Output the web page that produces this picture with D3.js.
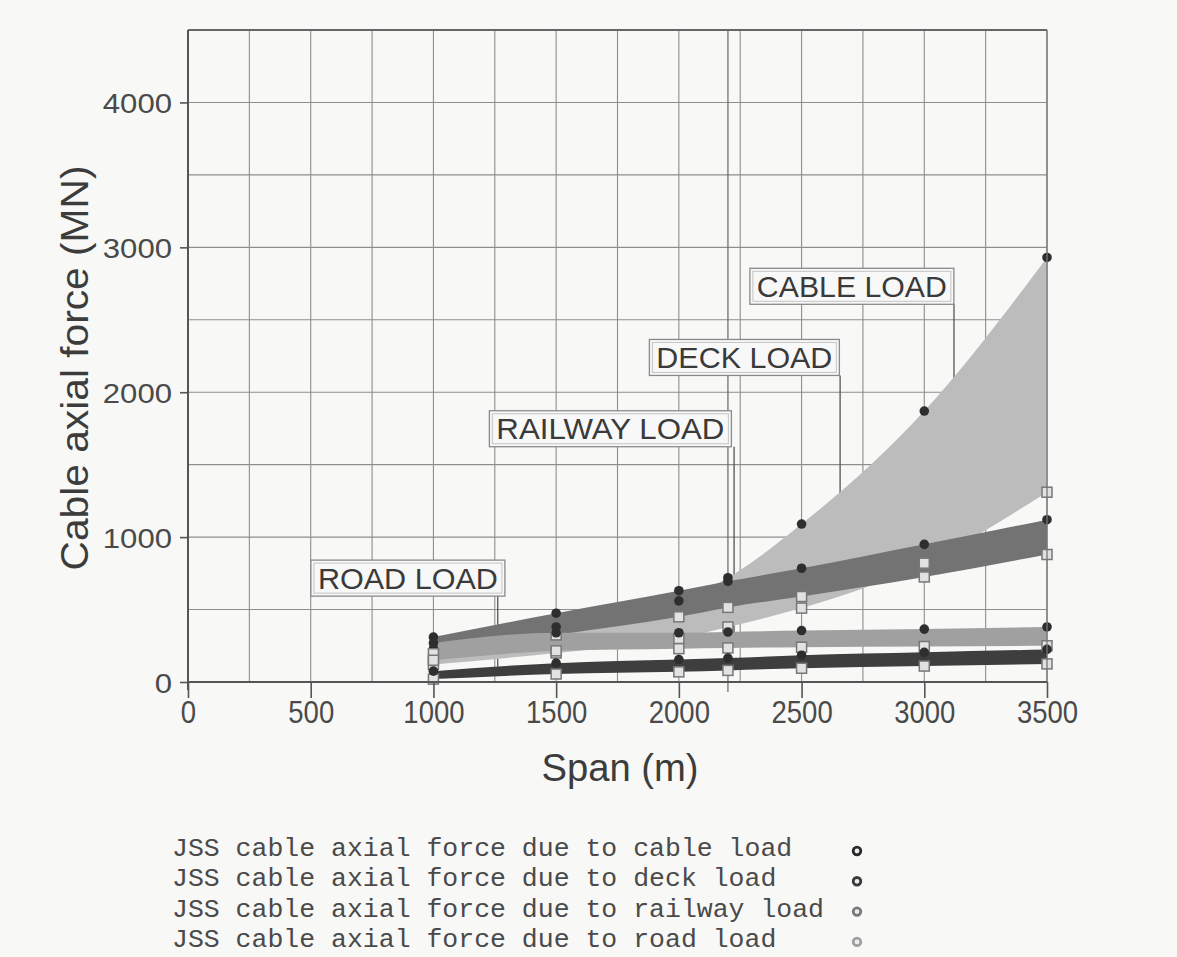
<!DOCTYPE html>
<html>
<head>
<meta charset="utf-8">
<script src="https://cdn.jsdelivr.net/npm/d3@7"></script>
<style>
  body { margin: 0; background: #f8f8f7; }
  svg { display: block; }
</style>
</head>
<body>
<div class="chart"></div>
<script>
// spans (m) where the curves were sampled
const spans = [1000, 1500, 2000, 2200, 2500, 3000, 3500];

// cable axial force bands (MN): lower and upper edge of each shaded band
const cableLower = [120, 200, 300, 380, 510, 820, 1310];
const cableUpper = [230, 380, 560, 720, 1090, 1870, 2930];
const deckLower = [195, 325, 450, 515, 590, 725, 880];
const deckUpper = [310, 475, 630, 695, 785, 950, 1120];
const railwayLower = [150, 215, 230, 235, 240, 245, 250];
const railwayUpper = [270, 340, 340, 345, 355, 365, 380];
const roadLower = [20, 55, 70, 80, 95, 110, 125];
const roadUpper = [75, 130, 155, 165, 185, 205, 225];

const xTicks = [0, 500, 1000, 1500, 2000, 2500, 3000, 3500];
const yTicks = [0, 1000, 2000, 3000, 4000];

const bandNames = ['CABLE LOAD', 'DECK LOAD', 'RAILWAY LOAD', 'ROAD LOAD'];
const legendLabels = [
  'JSS cable axial force due to cable load',
  'JSS cable axial force due to deck load',
  'JSS cable axial force due to railway load',
  'JSS cable axial force due to road load'
];

const W = 1177, H = 957;
const margin = { top: 30, right: 130, bottom: 275, left: 188 };

const svg = d3.select('.chart').append('svg').attr('width', W).attr('height', H);

const x = d3.scaleLinear().domain([0, 3500]).range([margin.left, W - margin.right]);
const y = d3.scaleLinear().domain([0, 4500]).range([H - margin.bottom, margin.top]);

// grid
const grid = svg.append('g').attr('stroke', '#8e8e8e').attr('stroke-width', 1.1);
grid.selectAll('line.v').data(d3.range(0, 3501, 250)).enter().append('line')
  .attr('x1', d => x(d)).attr('x2', d => x(d))
  .attr('y1', y(4500)).attr('y2', y(0));
grid.selectAll('line.h').data(d3.range(0, 4501, 500)).enter().append('line')
  .attr('x1', x(0)).attr('x2', x(3500))
  .attr('y1', d => y(d)).attr('y2', d => y(d));

// reference line at 2200 m
svg.append('line')
  .attr('x1', x(2200)).attr('x2', x(2200))
  .attr('y1', y(4500)).attr('y2', y(0) + 10)
  .attr('stroke', '#666').attr('stroke-width', 1.2);

// label boxes + leaders
const notes = [
  { name: bandNames[0], cx: 2705, cy: 2731, len: 190, lx: 3121, ly: 1468 },
  { name: bandNames[1], cx: 2267, cy: 2240, len: 176, lx: 2657, ly: 830 },
  { name: bandNames[2], cx: 1721, cy: 1748, len: 228, lx: 2225, ly: 300 },
  { name: bandNames[3], cx: 896, cy: 717, len: 180, lx: 1262, ly: 90 }
];
const leaders = svg.append('g');
notes.forEach(n => {
  leaders.append('line')
    .attr('x1', x(n.lx)).attr('x2', x(n.lx))
    .attr('y1', y(n.cy) + 18).attr('y2', y(n.ly))
    .attr('stroke', '#555').attr('stroke-width', 1.3);
});

// bands
const area = (lo, hi) => d3.area()
  .x((d, i) => x(spans[i]))
  .y0((d, i) => y(lo[i]))
  .y1((d, i) => y(hi[i]))
  .curve(d3.curveMonotoneX)(spans);

const bands = [
  { lo: cableLower, hi: cableUpper, fill: '#bcbcbc' },
  { lo: deckLower, hi: deckUpper, fill: '#737373' },
  { lo: railwayLower, hi: railwayUpper, fill: '#a0a0a0' },
  { lo: roadLower, hi: roadUpper, fill: '#3e3e3e' }
];
svg.append('g').selectAll('path').data(bands).enter().append('path')
  .attr('d', d => area(d.lo, d.hi))
  .attr('fill', d => d.fill);

// markers
const mk = svg.append('g');
bands.forEach(b => {
  mk.selectAll(null).data(spans).enter().append('rect')
    .attr('x', (d, i) => x(d) - 5).attr('y', (d, i) => y(b.lo[i]) - 5)
    .attr('width', 10).attr('height', 10)
    .attr('fill', '#e2e2e2').attr('stroke', '#777').attr('stroke-width', 1.5);
  mk.selectAll(null).data(spans).enter().append('circle')
    .attr('cx', d => x(d)).attr('cy', (d, i) => y(b.hi[i]))
    .attr('r', 4.8).attr('fill', '#2e2e2e');
});

// boxes on top
notes.forEach(n => {
  const w = n.len + 14, h = 36;
  const bx = x(n.cx) - w / 2, by = y(n.cy) - h / 2;
  const g = svg.append('g');
  g.append('rect').attr('x', bx).attr('y', by).attr('width', w).attr('height', h)
    .attr('fill', '#f8f8f8').attr('stroke', '#8a8a8a').attr('stroke-width', 1.3);
  g.append('rect').attr('x', bx + 3).attr('y', by + 3).attr('width', w - 6).attr('height', h - 6)
    .attr('fill', 'none').attr('stroke', '#c4c4c4').attr('stroke-width', 1);
  g.append('text').attr('x', x(n.cx)).attr('y', y(n.cy) + 10.5)
    .attr('text-anchor', 'middle')
    .attr('font-family', 'Liberation Sans, Arial, sans-serif').attr('font-size', 29)
    .attr('textLength', n.len).attr('lengthAdjust', 'spacingAndGlyphs')
    .attr('fill', '#3a3a3a').text(n.name);
});

// frame
svg.append('line').attr('x1', x(0)).attr('x2', x(3500)).attr('y1', y(4500)).attr('y2', y(4500))
  .attr('stroke', '#666').attr('stroke-width', 1.8);
svg.append('line').attr('x1', x(3500)).attr('x2', x(3500)).attr('y1', y(4500)).attr('y2', y(0))
  .attr('stroke', '#777').attr('stroke-width', 1.3);

// axes
const xAxis = svg.append('g').attr('transform', 'translate(0,' + y(0) + ')')
  .call(d3.axisBottom(x).tickValues(xTicks).tickSize(16).tickFormat(''));
const yAxis = svg.append('g').attr('transform', 'translate(' + x(0) + ',0)')
  .call(d3.axisLeft(y).tickValues(yTicks).tickSize(8).tickFormat(''));
[xAxis, yAxis].forEach(a => {
  a.select('.domain').attr('stroke', '#555').attr('stroke-width', 2);
  a.selectAll('.tick line').attr('stroke', '#555').attr('stroke-width', 1.6);
});
yAxis.select('.domain').attr('d', 'M0,' + y(4500) + 'V' + (y(0) + 8));
xAxis.select('.domain').attr('d', 'M' + x(0) + ',0H' + x(3500));

xAxis.selectAll('.tick').append('text')
  .attr('y', 41).attr('fill', '#4a4a4a').attr('text-anchor', 'middle')
  .attr('font-family', 'Liberation Sans, Arial, sans-serif').attr('font-size', 32)
  .attr('textLength', d => String(d).length * 15.3).attr('lengthAdjust', 'spacingAndGlyphs')
  .text(d => d);
yAxis.selectAll('.tick').append('text')
  .attr('x', -16).attr('dy', 10).attr('fill', '#4a4a4a').attr('text-anchor', 'end')
  .attr('font-family', 'Liberation Sans, Arial, sans-serif').attr('font-size', 28)
  .attr('textLength', d => String(d).length * 17.3).attr('lengthAdjust', 'spacingAndGlyphs')
  .text(d => d);

// axis titles
svg.append('text').attr('x', 620).attr('y', 781).attr('text-anchor', 'middle')
  .attr('font-family', 'Liberation Sans, Arial, sans-serif').attr('font-size', 38)
  .attr('textLength', 157).attr('lengthAdjust', 'spacingAndGlyphs')
  .attr('fill', '#3c3c3c').text('Span (m)');
svg.append('text').attr('transform', 'translate(88,368) rotate(-90)').attr('text-anchor', 'middle')
  .attr('font-family', 'Liberation Sans, Arial, sans-serif').attr('font-size', 38)
  .attr('textLength', 405).attr('lengthAdjust', 'spacingAndGlyphs')
  .attr('fill', '#3c3c3c').text('Cable axial force (MN)');

// legend
const legendShade = ['#2a2a2a', '#3a3a3a', '#7a7a7a', '#a0a0a0'];
const lg = svg.append('g');
lg.selectAll('text').data(legendLabels).enter().append('text')
  .attr('x', 172).attr('y', (d, i) => 856 + i * 30.3)
  .attr('font-family', 'Liberation Mono, Courier New, monospace').attr('font-size', 26.5)
  .attr('fill', '#4a4a4a').text(d => d);
lg.selectAll('circle').data(legendLabels).enter().append('circle')
  .attr('cx', 857).attr('cy', (d, i) => 851 + i * 30.3).attr('r', 3.8)
  .attr('fill', '#eee').attr('stroke', (d, i) => legendShade[i]).attr('stroke-width', 2.8);
</script>
</body>
</html>
